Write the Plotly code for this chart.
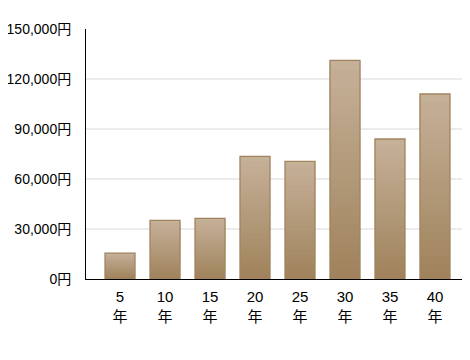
import plotly.graph_objects as go

categories = ["5<br>年", "10<br>年", "15<br>年", "20<br>年", "25<br>年", "30<br>年", "35<br>年", "40<br>年"]
values = [15500, 35200, 36400, 73600, 70600, 131200, 84000, 111000]
y_ticks = [0, 30000, 60000, 90000, 120000, 150000]

top_rgb = (197, 176, 152)
bot_rgb = (160, 131, 92)
N = 24
xs = list(range(len(categories)))

fig = go.Figure()
for k in range(N):
    t = k / (N - 1)
    c = tuple(round(bot_rgb[i] + (top_rgb[i] - bot_rgb[i]) * t) for i in range(3))
    fig.add_trace(go.Bar(
        x=xs, y=[v * (N - k) / N for v in values], base=[v * k / N for v in values],
        marker=dict(color="rgb(%d,%d,%d)" % c, line=dict(width=0)),
        width=0.667, hoverinfo="skip", showlegend=False))
fig.add_trace(go.Bar(
    x=xs, y=values,
    marker=dict(color="rgba(0,0,0,0)", line=dict(color="#a0845e", width=1.3)),
    width=0.667, showlegend=False))

for v in y_ticks[1:-1]:
    fig.add_shape(type="line", xref="paper", x0=0, x1=1, yref="y", y0=v, y1=v,
                  line=dict(color="#d8d8d8", width=1), layer="below")

font = "Liberation Sans, Arial, Noto Sans CJK JP"
fig.update_layout(
    width=470, height=360, barmode="overlay",
    margin=dict(l=78, r=8, t=21, b=89),
    plot_bgcolor="white", paper_bgcolor="white",
    font=dict(family=font, size=15, color="#000"),
    separators=".,",
    xaxis=dict(range=[-0.756, 7.778], tickmode="array", tickvals=xs, ticktext=categories,
               showline=True, linecolor="#000", linewidth=1.2, showgrid=False,
               zeroline=False, ticks="", ticklabelstandoff=4, automargin=False),
    yaxis=dict(range=[0, 150000], tickmode="array", tickvals=y_ticks,
               ticktext=[f"{v:,}円" for v in y_ticks], tickfont=dict(size=14),
               showline=True, linecolor="#000", linewidth=1, showgrid=False,
               zeroline=False, ticks="", ticklabelstandoff=11, automargin=False),
)
fig.write_html("out.html")
